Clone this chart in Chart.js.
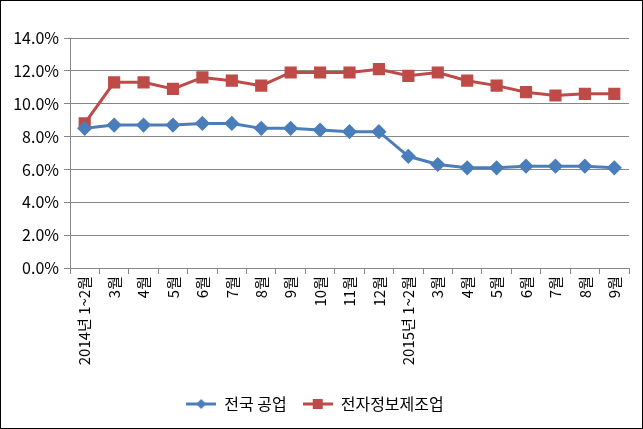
<!DOCTYPE html>
<html>
<head>
<meta charset="utf-8">
<script src="https://cdn.jsdelivr.net/npm/chart.js@4"></script>
<style>
  body { margin: 0; background: #fff; }
  #wrap { width: 643px; height: 429px; box-sizing: border-box; border: 1px solid #000; }
</style>
</head>
<body>
<div id="wrap"><canvas id="myChart" width="641" height="427"></canvas></div>
<script>
var months = ['2014년 1~2월', '3월', '4월', '5월', '6월', '7월', '8월', '9월', '10월', '11월', '12월',
              '2015년 1~2월', '3월', '4월', '5월', '6월', '7월', '8월', '9월'];
var national = [8.5, 8.7, 8.7, 8.7, 8.8, 8.8, 8.5, 8.5, 8.4, 8.3, 8.3, 6.8, 6.3, 6.1, 6.1, 6.2, 6.2, 6.2, 6.1];
var electronics = [8.8, 11.3, 11.3, 10.9, 11.6, 11.4, 11.1, 11.9, 11.9, 11.9, 12.1, 11.7, 11.9, 11.4, 11.1, 10.7, 10.5, 10.6, 10.6];
var yTicks = [0, 2, 4, 6, 8, 10, 12, 14];

var FONT = '"Noto Sans CJK KR", "Noto Sans", sans-serif';
var BLUE = '#4A7EBB';
var RED = '#BE4B48';
var GRID = '#868686';

// little legend symbol: line with the marker on it
function legendIcon(color, shape) {
  var c = document.createElement('canvas');
  c.width = 30; c.height = 14;
  var g = c.getContext('2d');
  g.strokeStyle = color; g.lineWidth = 3;
  g.beginPath(); g.moveTo(0, 7); g.lineTo(30, 7); g.stroke();
  g.fillStyle = color;
  if (shape === 'diamond') {
    g.beginPath(); g.moveTo(15, 2); g.lineTo(20, 7); g.lineTo(15, 12); g.lineTo(10, 7); g.closePath(); g.fill();
  } else {
    g.fillRect(10, 2, 10, 10);
  }
  return c;
}
var icons = [legendIcon(BLUE, 'diamond'), legendIcon(RED, 'square')];

document.addEventListener('DOMContentLoaded', function () {
  var ctx = document.getElementById('myChart').getContext('2d');

  var myChart = new Chart(ctx, {
    type: 'line',
    data: {
      labels: months,
      datasets: [{
        label: '전국 공업',
        data: national,
        borderColor: BLUE,
        backgroundColor: BLUE,
        borderWidth: 3,
        pointStyle: 'rectRot',
        pointRadius: 5.5,
        pointHoverRadius: 5.5,
        tension: 0
      }, {
        label: '전자정보제조업',
        data: electronics,
        borderColor: RED,
        backgroundColor: RED,
        borderWidth: 3,
        pointStyle: 'rect',
        pointRadius: 6.5,
        pointHoverRadius: 6.5,
        tension: 0
      }]
    },
    options: {
      responsive: false,
      animation: false,
      layout: { padding: { top: 37, right: 13, left: 0, bottom: 6 } },
      plugins: {
        tooltip: { enabled: false },
        legend: {
          position: 'bottom',
          labels: {
            usePointStyle: true,
            pointStyleWidth: 30,
            boxHeight: 14,
            padding: 16,
            color: '#000',
            font: { family: FONT, size: 16 },
            generateLabels: function (chart) {
              var items = Chart.defaults.plugins.legend.labels.generateLabels(chart);
              items.forEach(function (it, i) { it.pointStyle = icons[i]; });
              return items;
            }
          }
        }
      },
      scales: {
        x: {
          offset: true,
          grid: { offset: true, drawOnChartArea: false, color: GRID, tickLength: 6 },
          border: { color: GRID },
          ticks: {
            minRotation: 90, maxRotation: 90, autoSkip: false,
            color: '#000', padding: 2,
            font: { family: FONT, size: 15 }
          },
          afterFit: function (s) { s.height = 112; }
        },
        y: {
          min: 0, max: 14,
          afterBuildTicks: function (s) { s.ticks = yTicks.map(function (v) { return { value: v }; }); },
          grid: { color: GRID, tickLength: 6 },
          border: { color: GRID },
          ticks: {
            color: '#000', padding: 5,
            font: { family: FONT, size: 16 },
            callback: function (v) { return v.toFixed(1) + '%'; }
          },
          afterFit: function (s) { s.width = 69; }
        }
      }
    }
  });
});
</script>
</body>
</html>
